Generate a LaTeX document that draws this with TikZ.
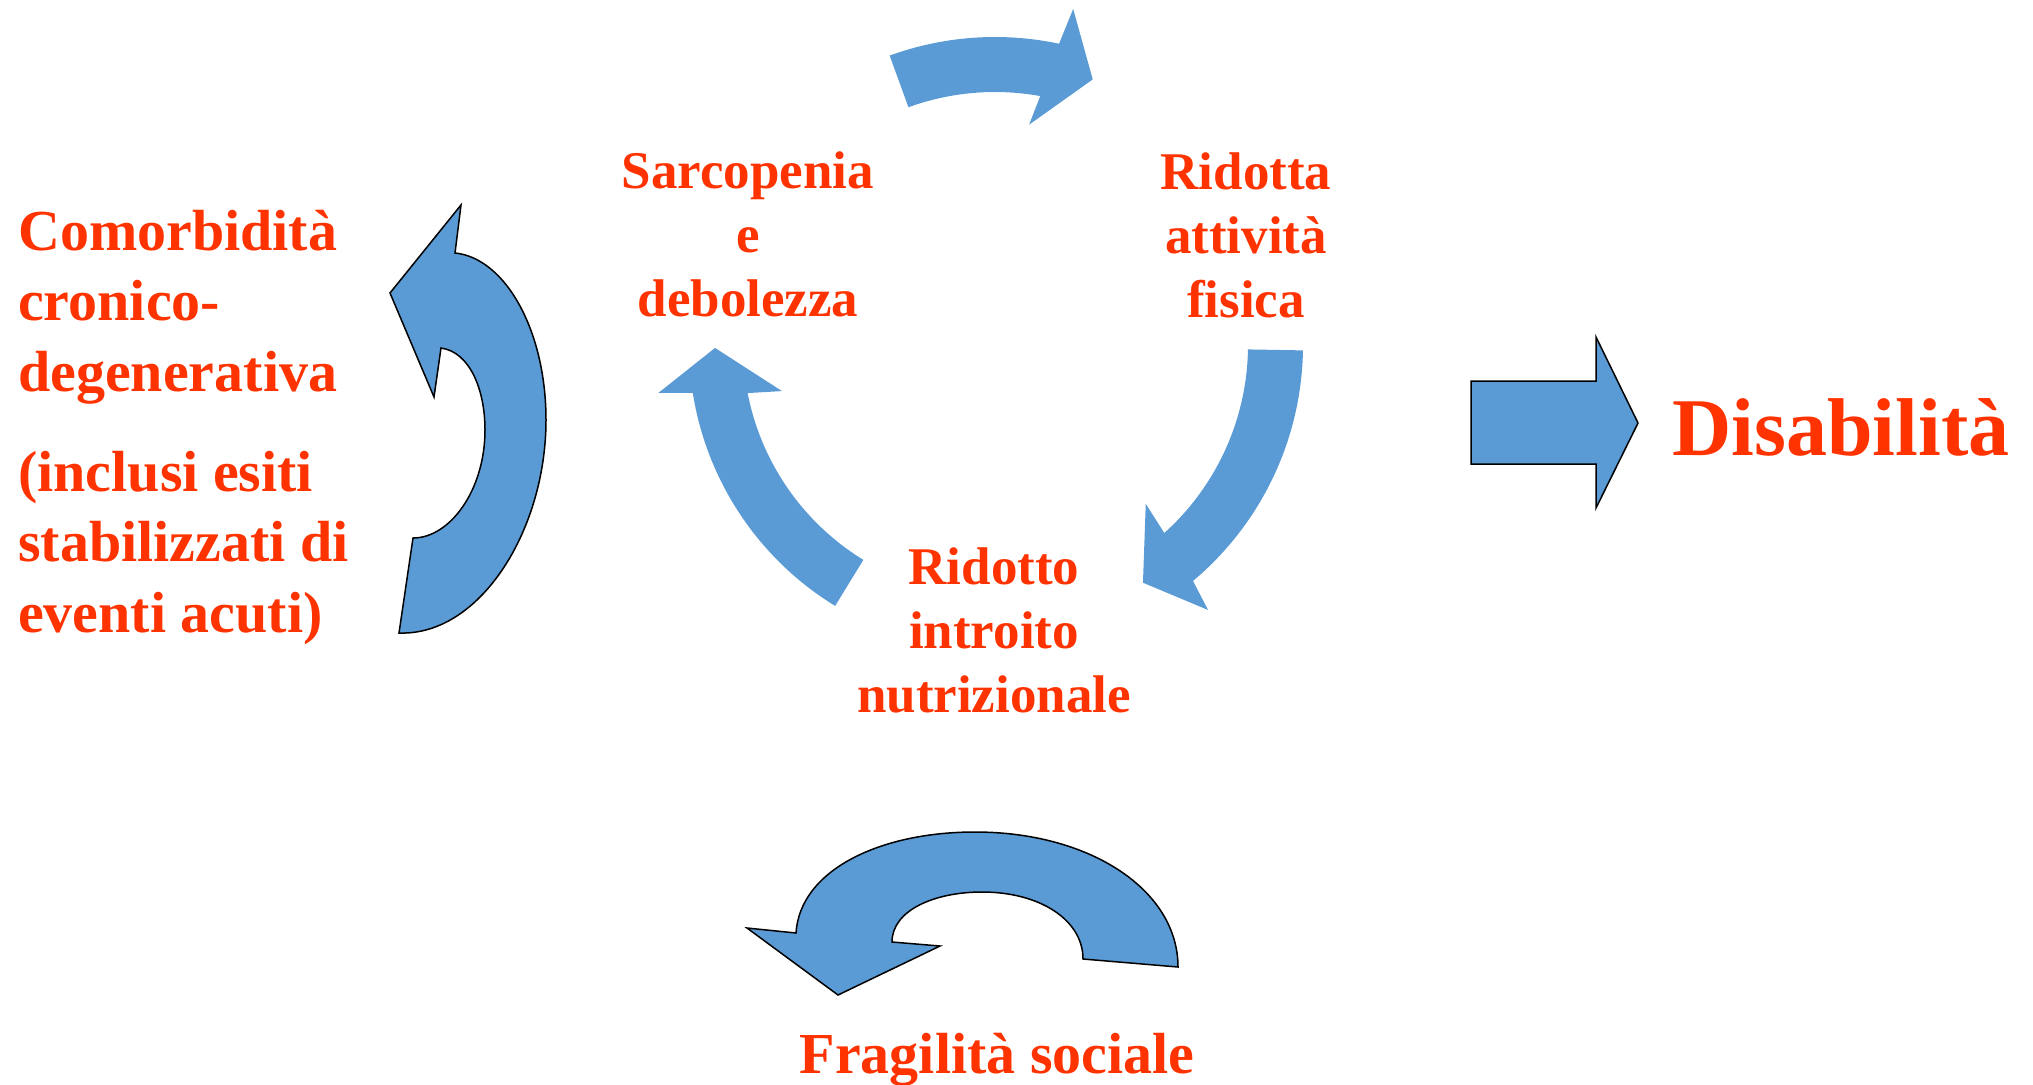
\documentclass[tikz,border=0pt]{standalone}
\usepackage{fontspec}
\setmainfont{Liberation Serif}
\definecolor{txtred}{HTML}{FF3300}
\definecolor{arrblue}{HTML}{5B9BD5}
\begin{document}
\begin{tikzpicture}[x=1pt,y=-1pt,
  lbl/.style={inner sep=0pt, text=txtred},
  midtxt/.style={lbl, anchor=base, align=center, font=\bfseries\fontsize{53}{64}\selectfont},
  flatarrow/.style={fill=arrblue, draw=none},
  outlarrow/.style={fill=arrblue, draw=black, line width=1.5pt, line join=miter}]
\useasboundingbox (0,0) rectangle (2033,1084);

% cycle arrows (circle centred at (995,345))
\begin{scope}[shift={(995,345)}, yscale=-1]
  \path[flatarrow] (110:308) arc[start angle=110, end angle=78, radius=308]
     -- (76.9:345) -- (69.8:283) -- (81.2:223) -- (79.7:253)
     arc[start angle=79.7, end angle=110, radius=253] -- cycle;
  \path[flatarrow] (-1:308) arc[start angle=-1, end angle=-50, radius=308]
     -- (-51.2:340) -- (-58.1:280) -- (-46.5:219) -- (-48:253)
     arc[start angle=-48, end angle=-1, radius=253] -- cycle;
  \path[flatarrow] (238.5:306) arc[start angle=238.5, end angle=189, radius=306]
     -- (188.1:340) -- (180.6:280) -- (192.2:218) -- (191:252)
     arc[start angle=191, end angle=238.5, radius=252] -- cycle;
\end{scope}

% curved arrow beside comorbidity
\draw[outlarrow] (399,633) .. controls (480,636) and (546,530) .. (546,420)
   .. controls (546,330) and (505,258) .. (455,253)
   -- (461,205) -- (390,293) -- (434,397) -- (441,348)
   .. controls (470,352) and (485,390) .. (485,430)
   .. controls (485,490) and (450,538) .. (413,538) -- cycle;

% curved arrow above social frailty
\draw[outlarrow] (1178,967) .. controls (1178,890) and (1090,832) .. (975,832)
   .. controls (880,832) and (800,870) .. (796,933)
   -- (747,928) -- (838,995) -- (940,946) -- (892,942)
   .. controls (892,910) and (935,892) .. (982,892)
   .. controls (1040,892) and (1083,920) .. (1083,959) -- cycle;

% block arrow to disability
\draw[outlarrow] (1471,381) -- (1596,381) -- (1596,337) -- (1638,423)
   -- (1596,508) -- (1596,464) -- (1471,464) -- cycle;

% texts (base anchor = baseline of last line)
\node[lbl, anchor=base west, align=left, font=\bfseries\fontsize{58}{70.5}\selectfont] (como) at (18,632)
  {Comorbidità\\cronico-\\degenerativa\\[29.5pt](inclusi esiti\\stabilizzati di\\eventi acuti)};
\node[midtxt] (sarc) at (748,316) {Sarcopenia\\e\\debolezza};
\node[midtxt] (rida) at (1246,317) {Ridotta\\attività\\fisica};
\node[midtxt] (ridi) at (994,712) {Ridotto\\introito\\nutrizionale};
\node[lbl, anchor=base, font=\bfseries\fontsize{58}{70}\selectfont] (frag) at (997,1073) {Fragilità sociale};
\node[lbl, anchor=base west, font=\bfseries\fontsize{82}{98}\selectfont] (dis) at (1672,455) {Disabilità};
\end{tikzpicture}
\end{document}
